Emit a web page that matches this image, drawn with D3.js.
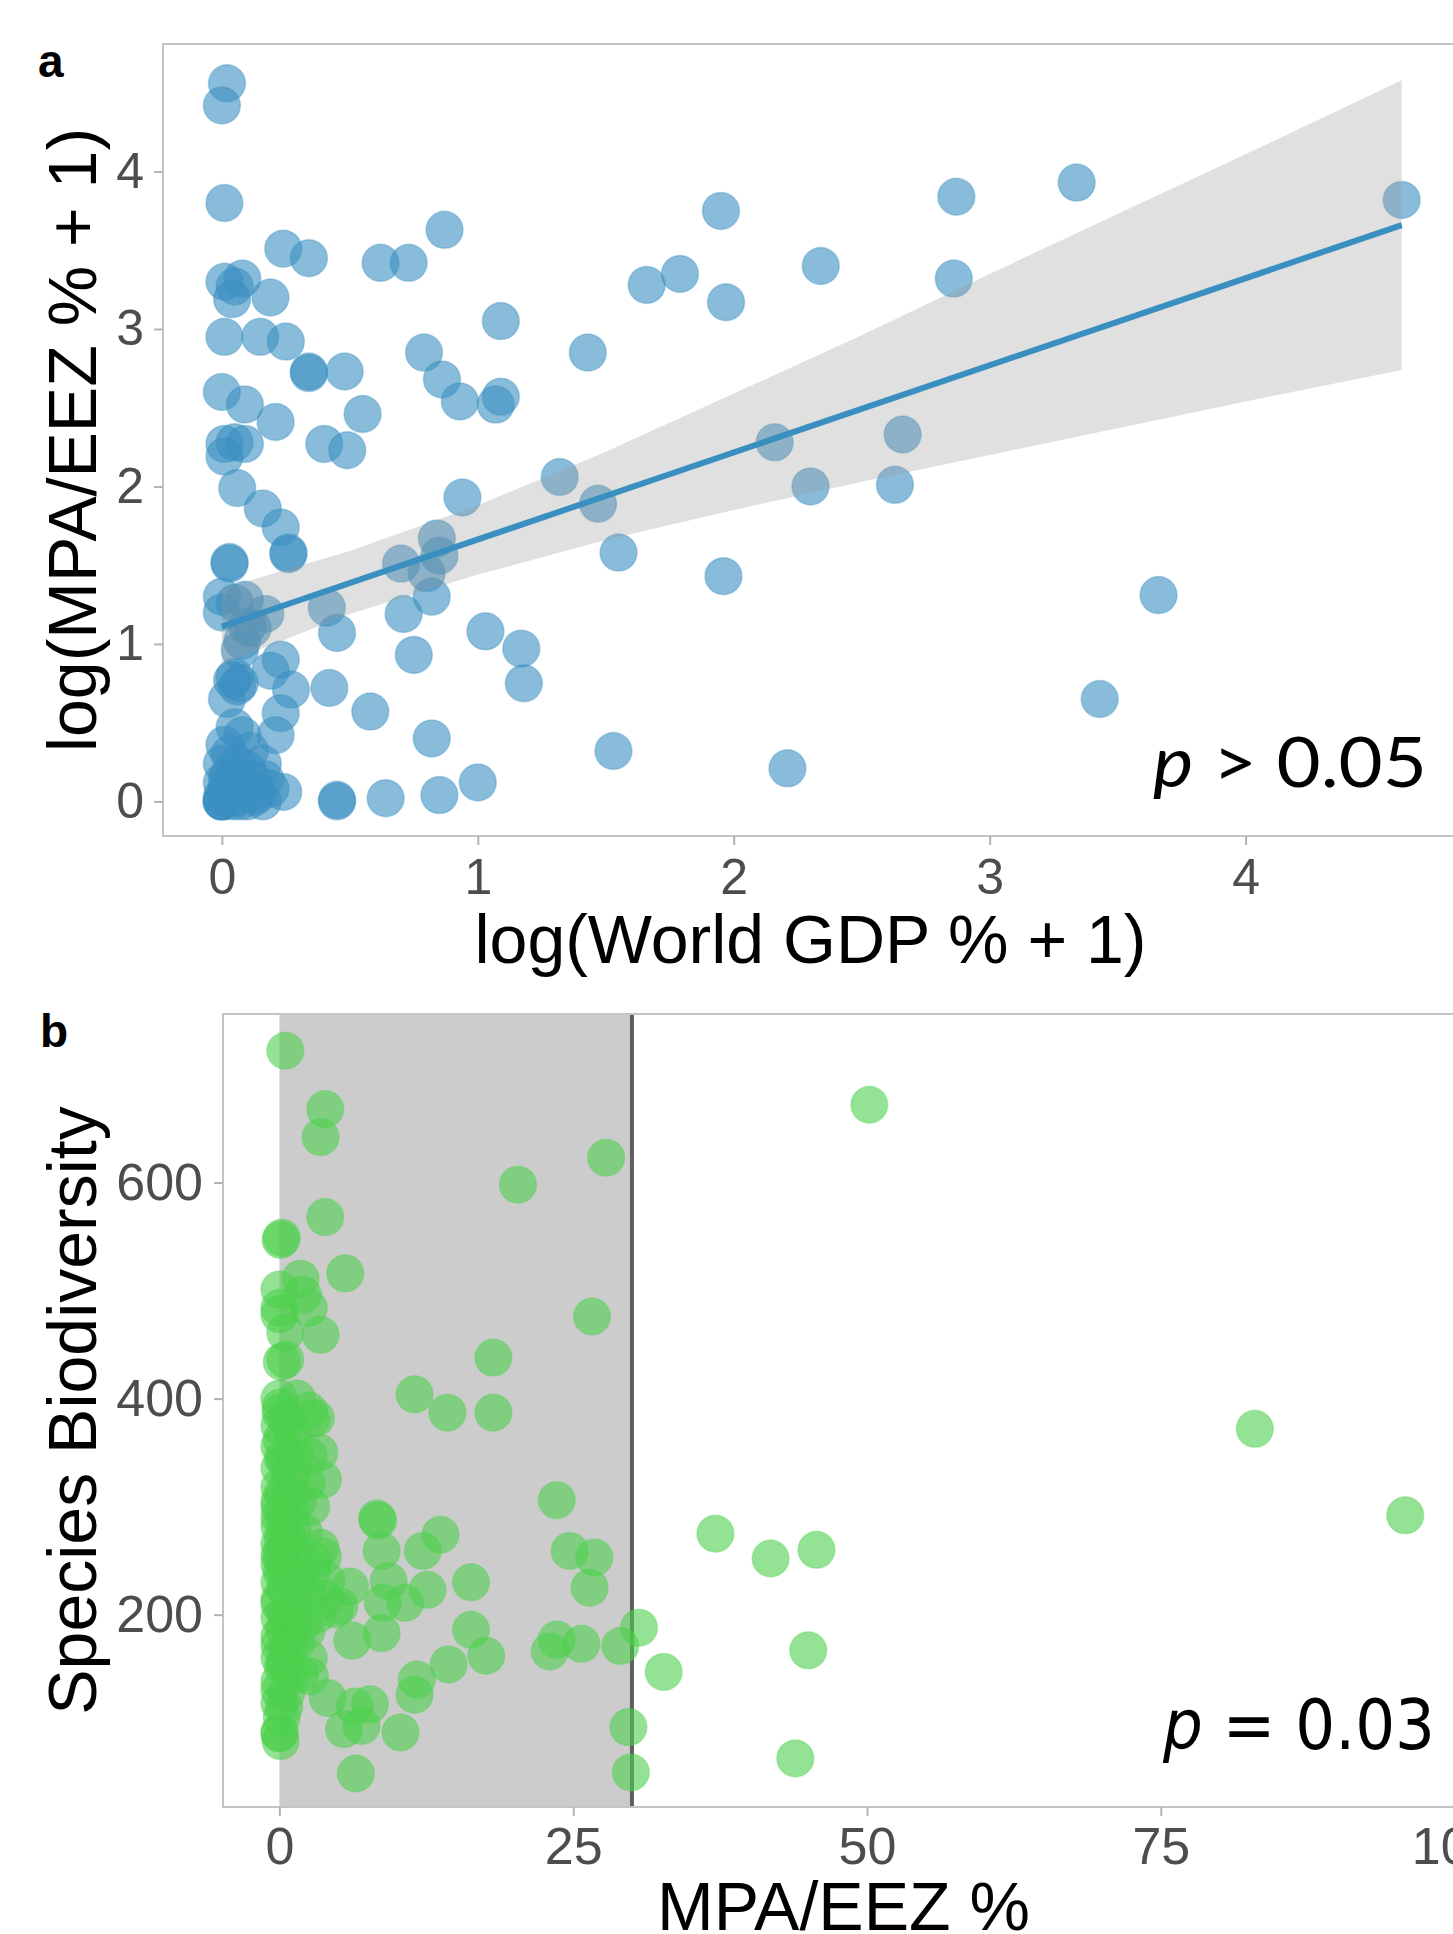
<!DOCTYPE html>
<html>
<head>
<meta charset="utf-8">
<script src="https://cdn.jsdelivr.net/npm/d3@7"></script>
<style>
  body { margin: 0; background: #fff; }
  svg { display: block; }
</style>
</head>
<body>
<svg></svg>
<script>
// ---- panel a data: log(World GDP % + 1) vs log(MPA/EEZ % + 1)
const gdpLog = [
  0.02, 0.00, 0.01, 0.24, 0.34, 0.62, 0.73, 0.87, 0.01, 0.08, 0.05, 0.04, 0.19, 0.01, 0.15, 0.25,
  0.34, 0.34, 0.48, 1.09, 0.79, 0.86, 0.93, 1.09, 1.07, 1.43, 0.00, 0.09, 0.21, 0.55, 0.01, 0.05,
  0.09, 0.01, 0.40, 0.49, 0.06, 0.16, 0.23, 0.26, 0.26, 0.03, 0.03, 0.00, 0.00, 0.09, 0.17, 0.08,
  0.07, 0.12, 0.41, 0.45, 0.70, 0.84, 0.85, 0.80, 0.82, 0.71, 0.94, 1.32, 0.75, 1.03, 1.17, 1.18,
  0.82, 0.58, 0.42, 0.23, 0.27, 0.19, 0.23, 0.21, 0.04, 0.02, 0.06, 0.05, 0.07, 0.05, 0.08, 0.00,
  0.00, 0.00, 0.04, 0.10, 0.16, 0.16, 0.24, 0.12, 0.03, 0.06, 0.02, 0.00, 0.08, 0.17, 0.45, 0.45,
  0.64, 0.85, 1.00, 1.47, 1.55, 1.96, 2.16, 2.30, 2.66, 2.63, 1.53, 2.21, 3.66, 3.43, 1.95, 2.87,
  3.34, 4.61, 2.34, 1.66, 1.79, 1.97, 2.86, 0.00, 0.00, 0.00, 0.02, 0.05, 0.10, 0.13, 0.03, 0.10,
  0.19, 0.06, 0.01, 0.11, 0.14, 0.07, 0.02, 0.05, 0.10
];
const mpaLog = [
  4.56, 4.42, 3.80, 3.51, 3.45, 3.42, 3.42, 3.63, 3.30, 3.32, 3.27, 3.19, 3.20, 2.95, 2.95, 2.92,
  2.73, 2.72, 2.73, 3.05, 2.85, 2.68, 2.54, 2.57, 2.52, 2.85, 2.60, 2.52, 2.41, 2.46, 2.27, 2.28,
  2.27, 2.19, 2.27, 2.23, 1.99, 1.86, 1.74, 1.57, 1.58, 1.51, 1.52, 1.30, 1.20, 1.28, 1.19, 1.02,
  0.96, 1.10, 1.23, 1.07, 1.51, 1.67, 1.56, 1.45, 1.30, 1.19, 1.93, 2.06, 0.93, 1.08, 0.97, 0.75,
  0.40, 0.57, 0.72, 0.90, 0.71, 0.83, 0.56, 0.42, 0.77, 0.65, 0.73, 0.79, 0.75, 0.47, 0.42, 0.24,
  0.12, 0.00, 0.00, 0.00, 0.00, 0.24, 0.06, 0.14, 0.30, 0.24, 0.14, 0.03, 0.06, 0.14, 0.00, 0.01,
  0.02, 0.04, 0.12, 1.89, 1.58, 1.43, 2.28, 2.00, 2.33, 2.01, 0.32, 0.21, 1.31, 0.65, 3.75, 3.84,
  3.93, 3.82, 3.40, 3.28, 3.35, 3.17, 3.32, 0.00, 0.00, 0.00, 0.06, 0.02, 0.10, 0.03, 0.18, 0.20,
  0.08, 0.09, 0.36, 0.32, 0.05, 0.00, 0.10, 1.26, 1.11
];
// fitted line and its confidence band
const fitX = [0, 4.61];
const fitY = [1.11, 3.66];
const bandX = [0, 0.5, 1, 1.5, 2, 2.5, 3, 3.5, 4, 4.61];
const bandLow = [0.87, 1.19, 1.44, 1.66, 1.85, 2.03, 2.20, 2.37, 2.54, 2.74];
const bandHigh = [1.35, 1.59, 1.88, 2.22, 2.59, 2.96, 3.35, 3.73, 4.11, 4.58];
const ticksA = [0, 1, 2, 3, 4];

// ---- panel b data: MPA/EEZ % vs species biodiversity
const mpaPct = [
  0.5, 3.9, 3.5, 3.9, 0.1, 0.2, 5.6, 20.3, 27.8, 26.6, 18.2, 11.5, 14.3, 18.2, 1.8, 0.0,
  2.0, 0.0, 2.5, 0.0, 0.5, 3.5, 0.2, 0.5, 1.5, 0.1, 2.5, 23.6, 24.7, 26.8, 26.4, 30.6,
  32.7, 37.1, 29.7, 29.9, 23.0, 23.6, 25.7, 29.0, 8.4, 8.3, 8.7, 12.2, 13.7, 9.3, 8.8, 10.7,
  12.6, 16.3, 6.0, 4.7, 6.2, 8.7, 16.3, 17.6, 14.4, 11.7, 11.5, 7.7, 6.4, 4.1, 5.5, 7.0,
  10.3, 6.5, 2.6, 3.7, 2.7, 2.5, 3.7, 5.1, 2.3, 0.0, 0.1, 50.2, 83.0, 95.8, 41.8, 45.7,
  45.0, 43.9, 3.4, 3.1,
  0.0, 0.2, 0.0, 0.6, 0.0, 1.0, 0.3, 0.0, 0.7, 1.4, 0.0, 0.4, 2.0, 0.0, 0.9, 1.3,
  0.0, 2.4, 0.5, 0.0, 1.7, 0.6, 0.0, 2.9, 0.2, 1.3, 0.0, 0.7, 2.1, 0.0, 0.4, 1.0,
  0.0, 1.6, 0.3, 0.0, 2.3, 0.8, 0.0, 0.5, 1.4, 0.0, 0.2, 1.1, 0.0, 0.6, 0.1, 0.0,
  0.5, 0.9, 1.5, 2.8, 3.5, 4.0, 2.5, 3.2, 1.7, 0.4, 2.7, 3.8, 1.0, 0.0, 0.3, 0.0,
  0.2, 0.8, 1.2, 0.0, 0.5, 0.0, 1.1, 0.0, 0.3, 0.0, 0.9
];
const species = [
  722, 668, 642, 568, 547, 549, 516, 598, 623, 476, 438, 404, 387, 387, 511, 501,
  496, 484, 484, 478, 461, 459, 434, 436, 400, 387, 389, 306, 259, 253, 225, 188,
  147, 275, 96, 54, 166, 177, 173, 171, 287, 289, 259, 259, 274, 231, 211, 211,
  223, 230, 226, 205, 176, 183, 186, 162, 154, 140, 126, 117, 115, 123, 94, 97,
  91, 53, 143, 325, 381, 347, 254, 208, 185, 91, 83, 672, 372, 292, 252, 260,
  167, 67, 350, 382,
  90, 105, 118, 128, 138, 146, 152, 160, 168, 174, 180, 186, 192, 197, 203, 209,
  214, 219, 224, 230, 236, 241, 247, 250, 256, 262, 266, 271, 276, 282, 288, 294,
  300, 306, 312, 318, 322, 330, 336, 343, 350, 356, 362, 368, 375, 382, 392, 305,
  200, 183, 226, 238, 262, 232, 160, 200, 145, 115, 300, 215, 330, 255, 270, 210,
  240, 260, 190, 172, 155, 130, 280, 290, 345, 400, 310
];
const shadeRange = [0, 30];
const ticksBx = [0, 25, 50, 75, 100];
const ticksBy = [200, 400, 600];

const W = 1453, H = 1934;
const svg = d3.select("svg").attr("width", W).attr("height", H);
const font = "'Liberation Sans', Arial, sans-serif";

// ---------- panel a ----------
const pa = { left: 163, right: 1458, top: 44, bottom: 836 };
const xa = d3.scaleLinear().domain([-0.23, 4.83]).range([pa.left, pa.right]);
const ya = d3.scaleLinear().domain([-0.22, 4.81]).range([pa.bottom, pa.top]);

const gA = svg.append("g");
const blue = "#3a8fc1";

gA.selectAll("circle")
  .data(d3.range(gdpLog.length))
  .join("circle")
  .attr("cx", i => xa(gdpLog[i]))
  .attr("cy", i => ya(mpaLog[i]))
  .attr("r", 18.5)
  .attr("fill", blue)
  .attr("fill-opacity", 0.6)
  .attr("stroke", blue)
  .attr("stroke-opacity", 0.35)
  .attr("stroke-width", 1.5);

// confidence band over the points
const area = d3.area()
  .x(i => xa(bandX[i]))
  .y0(i => ya(bandLow[i]))
  .y1(i => ya(bandHigh[i]));
gA.append("path")
  .attr("d", area(d3.range(bandX.length)))
  .attr("fill", "#999999")
  .attr("fill-opacity", 0.3);

gA.append("line")
  .attr("x1", xa(fitX[0])).attr("y1", ya(fitY[0]))
  .attr("x2", xa(fitX[1])).attr("y2", ya(fitY[1]))
  .attr("stroke", blue)
  .attr("stroke-width", 6);

gA.append("rect")
  .attr("x", pa.left).attr("y", pa.top)
  .attr("width", pa.right - pa.left).attr("height", pa.bottom - pa.top)
  .attr("fill", "none").attr("stroke", "#c4c4c4").attr("stroke-width", 2);

function styleAxis(g, size) {
  g.select(".domain").remove();
  g.selectAll(".tick line").attr("stroke", "#b3b3b3").attr("stroke-width", 2);
  g.selectAll(".tick text")
    .attr("fill", "#4d4d4d")
    .style("font-family", font)
    .style("font-size", size + "px");
}

gA.append("g")
  .attr("transform", `translate(${pa.left},0)`)
  .call(d3.axisLeft(ya).tickValues(ticksA).tickSize(9).tickPadding(10).tickFormat(d3.format("d")))
  .call(g => styleAxis(g, 50));

gA.append("g")
  .attr("transform", `translate(0,${pa.bottom})`)
  .call(d3.axisBottom(xa).tickValues(ticksA).tickSize(9).tickPadding(13).tickFormat(d3.format("d")))
  .call(g => styleAxis(g, 50));

svg.append("text")
  .attr("transform", `translate(96,${(pa.top + pa.bottom) / 2}) rotate(-90)`)
  .attr("text-anchor", "middle")
  .style("font-family", font).style("font-size", "68px")
  .text("log(MPA/EEZ % + 1)");

svg.append("text")
  .attr("x", (pa.left + pa.right) / 2).attr("y", 963)
  .attr("text-anchor", "middle")
  .style("font-family", font).style("font-size", "68px")
  .text("log(World GDP % + 1)");

svg.append("text")
  .attr("x", 38).attr("y", 77)
  .style("font-family", font).style("font-size", "46px").style("font-weight", "bold")
  .text("a");

const pA = svg.append("text")
  .attr("x", 1153).attr("y", 787)
  .attr("textLength", 274).attr("lengthAdjust", "spacingAndGlyphs")
  .style("font-family", "Lato, 'Open Sans', sans-serif").style("font-size", "70px");
pA.append("tspan").style("font-style", "italic").text("p");
pA.append("tspan").text(" > 0.05");

// ---------- panel b ----------
const pb = { left: 223, right: 1464, top: 1014, bottom: 1807 };
const xb = d3.scaleLinear().domain([-4.8, 100.8]).range([pb.left, pb.right]);
const yb = d3.scaleLinear().domain([22, 756]).range([pb.bottom, pb.top]);
const gB = svg.append("g");
const green = "#4cd04c";

gB.append("rect")
  .attr("x", xb(shadeRange[0])).attr("y", pb.top)
  .attr("width", xb(shadeRange[1]) - xb(shadeRange[0]))
  .attr("height", pb.bottom - pb.top)
  .attr("fill", "#cccccc");

gB.append("line")
  .attr("x1", xb(shadeRange[1])).attr("x2", xb(shadeRange[1]))
  .attr("y1", pb.top).attr("y2", pb.bottom)
  .attr("stroke", "#5f5f5f").attr("stroke-width", 4);

gB.selectAll("circle")
  .data(d3.range(mpaPct.length))
  .join("circle")
  .attr("cx", i => xb(mpaPct[i]))
  .attr("cy", i => yb(species[i]))
  .attr("r", 18.5)
  .attr("fill", green)
  .attr("fill-opacity", 0.6)
  .attr("stroke", green)
  .attr("stroke-opacity", 0.3)
  .attr("stroke-width", 1.5);

gB.append("rect")
  .attr("x", pb.left).attr("y", pb.top)
  .attr("width", pb.right - pb.left).attr("height", pb.bottom - pb.top)
  .attr("fill", "none").attr("stroke", "#c4c4c4").attr("stroke-width", 2);

gB.append("g")
  .attr("transform", `translate(${pb.left},0)`)
  .call(d3.axisLeft(yb).tickValues(ticksBy).tickSize(9).tickPadding(11))
  .call(g => styleAxis(g, 52));

gB.append("g")
  .attr("transform", `translate(0,${pb.bottom})`)
  .call(d3.axisBottom(xb).tickValues(ticksBx).tickSize(9).tickPadding(11))
  .call(g => styleAxis(g, 52));

svg.append("text")
  .attr("transform", `translate(96,${(pb.top + pb.bottom) / 2}) rotate(-90)`)
  .attr("text-anchor", "middle")
  .style("font-family", font).style("font-size", "68px")
  .text("Species Biodiversity");

svg.append("text")
  .attr("x", (pb.left + pb.right) / 2).attr("y", 1930)
  .attr("text-anchor", "middle")
  .style("font-family", font).style("font-size", "68px")
  .text("MPA/EEZ %");

svg.append("text")
  .attr("x", 40).attr("y", 1047)
  .style("font-family", font).style("font-size", "46px").style("font-weight", "bold")
  .text("b");

const pB = svg.append("text")
  .attr("x", 1163).attr("y", 1749)
  .attr("textLength", 272).attr("lengthAdjust", "spacingAndGlyphs")
  .style("font-family", "'DejaVu Sans', Verdana, sans-serif").style("font-size", "70px");
pB.append("tspan").style("font-style", "italic").text("p");
pB.append("tspan").text(" = 0.03");
</script>
</body>
</html>
